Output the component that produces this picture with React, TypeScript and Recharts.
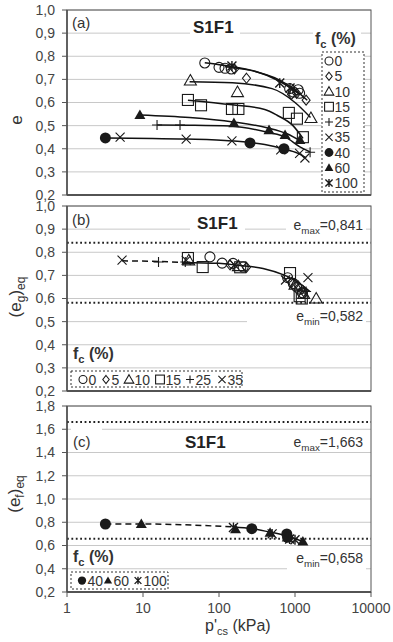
import React from 'react';
import { ComposedChart, Scatter, Line, XAxis, YAxis, CartesianGrid, ReferenceLine } from 'recharts';

const FONT = '"Liberation Sans", Arial, sans-serif';

// ---------- axes ----------
const xTicks = [1, 10, 100, 1000, 10000];
const yTicksAB = [0.2, 0.3, 0.4, 0.5, 0.6, 0.7, 0.8, 0.9, 1.0];
const yTicksC = [0.2, 0.4, 0.6, 0.8, 1.0, 1.2, 1.4, 1.6, 1.8];

// ---------- panel (a): e vs p'cs ----------
const a_fc0 = [[65, 0.771], [100, 0.752], [120, 0.748], [145, 0.745], [850, 0.66], [950, 0.645], [1100, 0.655], [1150, 0.64]];
const a_fc5 = [[160, 0.745], [230, 0.705], [900, 0.635], [1050, 0.64], [1400, 0.61]];
const a_fc10 = [[42, 0.695], [175, 0.645], [1620, 0.533]];
const a_fc15 = [[39, 0.611], [58, 0.588], [148, 0.572], [180, 0.572], [830, 0.555], [1060, 0.53], [1270, 0.45]];
const a_fc25 = [[15.3, 0.503], [30.7, 0.503], [1580, 0.385]];
const a_fc35 = [[5, 0.45], [37, 0.442], [148, 0.434], [650, 0.395], [1150, 0.38], [1350, 0.36]];
const a_fc40 = [[3.2, 0.447], [256, 0.425], [716, 0.4]];
const a_fc60 = [[9.1, 0.546], [157, 0.511], [455, 0.481], [740, 0.46], [1160, 0.438]];
const a_fc100 = [[148, 0.758], [630, 0.684], [860, 0.663]];

const a_curveTop1 = [[65, 0.772], [150, 0.755], [300, 0.735], [600, 0.695], [900, 0.66], [1150, 0.635]];
const a_curveTop2 = [[120, 0.755], [250, 0.74], [600, 0.7], [1000, 0.655], [1450, 0.61]];
const a_curve10 = [[41, 0.69], [150, 0.685], [500, 0.66], [1000, 0.6], [1600, 0.535]];
const a_curve15 = [[39, 0.61], [150, 0.59], [400, 0.57], [580, 0.545], [940, 0.5], [1275, 0.445]];
const a_curve60 = [[9.1, 0.546], [41, 0.535], [153, 0.516], [441, 0.49], [785, 0.465], [1236, 0.43]];
const a_curve25 = [[15.3, 0.503], [41, 0.502], [140, 0.498], [450, 0.47], [750, 0.45], [1160, 0.408], [1580, 0.386]];
const a_curve40 = [[3.2, 0.447], [37, 0.442], [148, 0.434], [400, 0.418], [700, 0.4], [1100, 0.38], [1400, 0.36]];

// ---------- panel (b): (eg)eq ----------
const b_fc0 = [[76, 0.78], [110, 0.753], [153, 0.752], [208, 0.736], [800, 0.69], [950, 0.665], [1050, 0.65], [1150, 0.64], [1250, 0.625]];
const b_fc5 = [[140, 0.745], [230, 0.735], [900, 0.67], [1100, 0.655], [1300, 0.63]];
const b_fc10 = [[40, 0.765], [180, 0.74], [1000, 0.66], [1300, 0.62], [1900, 0.6]];
const b_fc15 = [[39, 0.775], [61, 0.736], [190, 0.735], [860, 0.71], [1230, 0.6], [1150, 0.61]];
const b_fc25 = [[16, 0.758], [36, 0.758], [1400, 0.63]];
const b_fc35 = [[5.3, 0.766], [37, 0.765], [160, 0.745], [750, 0.68], [1480, 0.69]];
const b_dashed = [[5.3, 0.763], [16, 0.76], [33, 0.756]];
const b_solid = [[33, 0.756], [100, 0.752], [172, 0.744], [380, 0.73], [695, 0.703], [1060, 0.673], [1575, 0.63]];
const b_emax = 0.841;
const b_emin = 0.582;

// ---------- panel (c): (ef)eq ----------
const c_fc40 = [[3.2, 0.785], [270, 0.745], [780, 0.7], [800, 0.67]];
const c_fc60 = [[9.5, 0.785], [165, 0.74], [470, 0.71], [790, 0.67], [1270, 0.635]];
const c_fc100 = [[155, 0.755], [500, 0.7], [850, 0.655], [1000, 0.65]];
const c_dashed = [[3.2, 0.785], [9.5, 0.785], [155, 0.76]];
const c_solid = [[155, 0.76], [270, 0.745], [470, 0.715], [790, 0.68], [1270, 0.635]];
const c_emax = 1.663;
const c_emin = 0.658;

const toPts = (arr: number[][]) => arr.map(([p, e]) => ({ p, e }));
const fmt = (v: number) => v.toFixed(1).replace('.', ',');

function Marker({ kind, cx, cy, k = 1 }: any) {
  if (cx == null || cy == null || isNaN(cx) || isNaN(cy)) return null;
  const c = '#1a1a1a';
  const sw = 1.1;
  switch (kind) {
    case 'circle':
      return <circle cx={cx} cy={cy} r={5 * k} fill="none" stroke={c} strokeWidth={sw} />;
    case 'diamond': {
      const d = 5 * k;
      return <polygon points={`${cx},${cy - d} ${cx + d * 0.8},${cy} ${cx},${cy + d} ${cx - d * 0.8},${cy}`} fill="none" stroke={c} strokeWidth={sw} />;
    }
    case 'triangle': {
      const t = 6 * k;
      return <polygon points={`${cx},${cy - t} ${cx + t},${cy + t * 0.75} ${cx - t},${cy + t * 0.75}`} fill="none" stroke={c} strokeWidth={sw} />;
    }
    case 'square': {
      const q = 5.5 * k;
      return <rect x={cx - q} y={cy - q} width={2 * q} height={2 * q} fill="none" stroke={c} strokeWidth={sw} />;
    }
    case 'plus': {
      const s = 5 * k;
      return <path d={`M${cx - s},${cy}H${cx + s}M${cx},${cy - s}V${cy + s}`} stroke={c} strokeWidth={sw} fill="none" />;
    }
    case 'cross': {
      const s = 4.5 * k;
      return <path d={`M${cx - s},${cy - s}L${cx + s},${cy + s}M${cx + s},${cy - s}L${cx - s},${cy + s}`} stroke={c} strokeWidth={sw} fill="none" />;
    }
    case 'dot':
      return <circle cx={cx} cy={cy} r={5.5 * k} fill={c} />;
    case 'tri': {
      const t = 5.5 * k;
      return <polygon points={`${cx},${cy - t} ${cx + t},${cy + t * 0.75} ${cx - t},${cy + t * 0.75}`} fill={c} />;
    }
    case 'star': {
      const s = 4.5 * k;
      return (
        <path
          d={`M${cx - s},${cy - s}L${cx + s},${cy + s}M${cx + s},${cy - s}L${cx - s},${cy + s}M${cx},${cy - s * 1.1}V${cy + s * 1.1}`}
          stroke={c}
          strokeWidth={1.4}
          fill="none"
        />
      );
    }
    default:
      return null;
  }
}

type Series = { kind: string; data: number[][] };
type Curve = { data: number[][]; dash?: string };

function Panel(props: {
  top: number;
  height: number;
  mTop: number;
  mBottom: number;
  xH: number;
  showX: boolean;
  yTicks: number[];
  yDomain: [number, number];
  series: Series[];
  curves: Curve[];
  refs: number[];
}) {
  const { top, height, mTop, mBottom, xH, showX, yTicks, yDomain, series, curves, refs } = props;
  return (
    <div style={{ position: 'absolute', left: 0, top, width: 393, height }}>
      <ComposedChart width={393} height={height} margin={{ top: mTop, right: 22, bottom: mBottom, left: 0 }}>
        <CartesianGrid vertical={false} stroke="#c8c8c8" strokeWidth={1} />
        <XAxis
          dataKey="p"
          type="number"
          scale="log"
          domain={[1, 10000]}
          ticks={xTicks}
          interval={0}
          allowDataOverflow
          height={xH}
          tick={showX ? { fontFamily: FONT, fontSize: 14, fill: '#444' } : false}
          tickFormatter={(v: number) => String(v)}
          tickSize={5}
          tickMargin={6}
          axisLine={{ stroke: '#222', strokeWidth: 1.3 }}
          tickLine={{ stroke: '#555' }}
        />
        <YAxis
          type="number"
          domain={yDomain}
          ticks={yTicks}
          interval={0}
          allowDataOverflow
          width={67}
          tick={{ fontFamily: FONT, fontSize: 14, fill: '#444' }}
          tickFormatter={fmt}
          tickSize={5}
          tickMargin={7}
          axisLine={{ stroke: '#222', strokeWidth: 1.3 }}
          tickLine={{ stroke: '#555' }}
        />
        {refs.map((r, i) => (
          <ReferenceLine key={'r' + i} y={r} stroke="#222" strokeWidth={2} strokeDasharray="1.8 2.6" />
        ))}
        {curves.map((c, i) => (
          <Line
            key={'c' + i}
            data={toPts(c.data)}
            dataKey="e"
            type="monotone"
            stroke="#111"
            strokeWidth={1.5}
            strokeDasharray={c.dash}
            dot={false}
            activeDot={false}
            isAnimationActive={false}
          />
        ))}
        {series.map((s, i) => (
          <Scatter
            key={'s' + i}
            data={toPts(s.data)}
            dataKey="e"
            isAnimationActive={false}
            shape={(p: any) => <Marker kind={s.kind} cx={p.cx} cy={p.cy} />}
          />
        ))}
      </ComposedChart>
    </div>
  );
}

function Sub({ x, y, main, sub, rest, size = 14, anchor = 'start', bold = false }: any) {
  return (
    <text x={x} y={y} fontFamily={FONT} fontSize={size} fill="#333" textAnchor={anchor} fontWeight={bold ? 'bold' : 'normal'}>
      {main}
      <tspan fontSize={size * 0.7} dy={size * 0.25}>{sub}</tspan>
      <tspan dy={-size * 0.25}>{rest}</tspan>
    </text>
  );
}

function Overlay() {
  const W = '#fff';
  return (
    <svg width={393} height={642} style={{ position: 'absolute', left: 0, top: 0, pointerEvents: 'none' }}>
      {/* plot frames */}
      <rect x={67} y={10} width={304} height={185} fill="none" stroke="#555" strokeWidth={1} />
      <rect x={67} y={206} width={304} height={185} fill="none" stroke="#555" strokeWidth={1} />
      <rect x={67} y={406} width={304} height={186} fill="none" stroke="#555" strokeWidth={1} />

      {/* ---- panel (a) ---- */}
      <text x={72} y={28} fontFamily={FONT} fontSize={15} fill="#333">(a)</text>
      <rect x={190} y={19} width={50} height={17} fill={W} />
      <text x={193} y={33} fontFamily={FONT} fontSize={17} fontWeight="bold" fill="#222">S1F1</text>
      <rect x={313} y={28} width={48} height={20} fill={W} />
      <Sub x={315} y={44} main="f" sub="c" rest=" (%)" size={16} bold />
      <rect x={322} y={52} width={42} height={140} fill={W} stroke="#333" strokeWidth={1} strokeDasharray="2 2" />
      {[
        ['circle', '0'], ['diamond', '5'], ['triangle', '10'], ['square', '15'], ['plus', '25'],
        ['cross', '35'], ['dot', '40'], ['tri', '60'], ['star', '100'],
      ].map(([k, t], i) => (
        <g key={'la' + i}>
          <Marker kind={k} cx={329} cy={61 + i * 15.25} k={0.8} />
          <text x={334.5} y={61 + i * 15.25 + 5} fontFamily={FONT} fontSize={14} fill="#333">{t}</text>
        </g>
      ))}
      <text transform="translate(22,120) rotate(-90)" textAnchor="middle" fontFamily={FONT} fontSize={17} fill="#333">e</text>

      {/* ---- panel (b) ---- */}
      <text x={72} y={225} fontFamily={FONT} fontSize={15} fill="#333">(b)</text>
      <rect x={190} y={215} width={55} height={17} fill={W} />
      <text x={197} y={229} fontFamily={FONT} fontSize={17} fontWeight="bold" fill="#222">S1F1</text>
      <rect x={286} y={217} width={80} height={17} fill={W} />
      <Sub x={363} y={230} main="e" sub="max" rest="=0,841" size={14} anchor="end" />
      <rect x={247} y={309} width={119} height={17} fill={W} />
      <Sub x={363} y={321} main="e" sub="min" rest="=0,582" size={14} anchor="end" />
      <Sub x={73} y={359} main="f" sub="c" rest=" (%)" size={16} bold />
      <rect x={71} y={371} width={171} height={16} fill={W} stroke="#333" strokeWidth={1} strokeDasharray="2 2" />
      {[
        ['circle', '0', 83], ['diamond', '5', 106], ['triangle', '10', 129], ['square', '15', 160], ['plus', '25', 190], ['cross', '35', 222],
      ].map(([k, t, x], i) => (
        <g key={'lb' + i}>
          <Marker kind={k} cx={x as number} cy={379.5} k={0.8} />
          <text x={(x as number) + 5.5} y={384.5} fontFamily={FONT} fontSize={14} fill="#333">{t}</text>
        </g>
      ))}
      <text transform="translate(21,297) rotate(-90)" textAnchor="middle" fontFamily={FONT} fontSize={17} fill="#333">
        (e<tspan fontSize={12} dy={4}>g</tspan><tspan dy={-4}>)</tspan><tspan fontSize={12} dy={4}>eq</tspan>
      </text>

      {/* ---- panel (c) ---- */}
      <rect x={71} y={425} width={31} height={8} fill={W} />
      <text x={73} y={447} fontFamily={FONT} fontSize={15} fill="#333">(c)</text>
      <text x={185} y={448} fontFamily={FONT} fontSize={17} fontWeight="bold" fill="#222">S1F1</text>
      <Sub x={363} y={447} main="e" sub="max" rest="=1,663" size={14} anchor="end" />
      <rect x={287} y={549} width={79} height={21} fill={W} />
      <Sub x={363} y={563} main="e" sub="min" rest="=0,658" size={14} anchor="end" />
      <Sub x={73} y={562} main="f" sub="c" rest=" (%)" size={16} bold />
      <rect x={71} y={572} width={97} height={17} fill={W} stroke="#333" strokeWidth={1} strokeDasharray="2 2" />
      {[
        ['dot', '40', 82], ['tri', '60', 108], ['star', '100', 138],
      ].map(([k, t, x], i) => (
        <g key={'lc' + i}>
          <Marker kind={k} cx={x as number} cy={580.5} k={0.75} />
          <text x={(x as number) + 5.5} y={585.5} fontFamily={FONT} fontSize={14} fill="#333">{t}</text>
        </g>
      ))}
      <text transform="translate(20,494) rotate(-90)" textAnchor="middle" fontFamily={FONT} fontSize={17} fill="#333">
        (e<tspan fontSize={12} dy={4}>f</tspan><tspan dy={-4}>)</tspan><tspan fontSize={12} dy={4}>eq</tspan>
      </text>
      <text x={205} y={631} fontFamily={FONT} fontSize={16} fill="#333">
        p'<tspan fontSize={11} dy={4}>cs</tspan><tspan dy={-4}> (kPa)</tspan>
      </text>
    </svg>
  );
}

export default function App() {
  const seriesA: Series[] = [
    { kind: 'circle', data: a_fc0 },
    { kind: 'diamond', data: a_fc5 },
    { kind: 'triangle', data: a_fc10 },
    { kind: 'square', data: a_fc15 },
    { kind: 'plus', data: a_fc25 },
    { kind: 'cross', data: a_fc35 },
    { kind: 'dot', data: a_fc40 },
    { kind: 'tri', data: a_fc60 },
    { kind: 'star', data: a_fc100 },
  ];
  const curvesA: Curve[] = [
    { data: a_curveTop1 }, { data: a_curveTop2 }, { data: a_curve10 }, { data: a_curve15 },
    { data: a_curve60 }, { data: a_curve25 }, { data: a_curve40 },
  ];
  const seriesB: Series[] = [
    { kind: 'circle', data: b_fc0 },
    { kind: 'diamond', data: b_fc5 },
    { kind: 'triangle', data: b_fc10 },
    { kind: 'square', data: b_fc15 },
    { kind: 'plus', data: b_fc25 },
    { kind: 'cross', data: b_fc35 },
  ];
  const curvesB: Curve[] = [{ data: b_dashed, dash: '6 4' }, { data: b_solid }];
  const seriesC: Series[] = [
    { kind: 'dot', data: c_fc40 },
    { kind: 'tri', data: c_fc60 },
    { kind: 'star', data: c_fc100 },
  ];
  const curvesC: Curve[] = [{ data: c_dashed, dash: '6 4' }, { data: c_solid }];

  return (
    <div style={{ position: 'absolute', left: 0, top: 0, width: 393, height: 642, background: '#fff' }}>
      <Panel top={0} height={210} mTop={10} mBottom={10} xH={5} showX={false} yTicks={yTicksAB} yDomain={[0.2, 1.0]} series={seriesA} curves={curvesA} refs={[]} />
      <Panel top={190} height={216} mTop={16} mBottom={10} xH={5} showX={false} yTicks={yTicksAB} yDomain={[0.2, 1.0]} series={seriesB} curves={curvesB} refs={[b_emax, b_emin]} />
      <Panel top={390} height={252} mTop={16} mBottom={26} xH={24} showX={true} yTicks={yTicksC} yDomain={[0.2, 1.8]} series={seriesC} curves={curvesC} refs={[c_emax, c_emin]} />
      <Overlay />
    </div>
  );
}
